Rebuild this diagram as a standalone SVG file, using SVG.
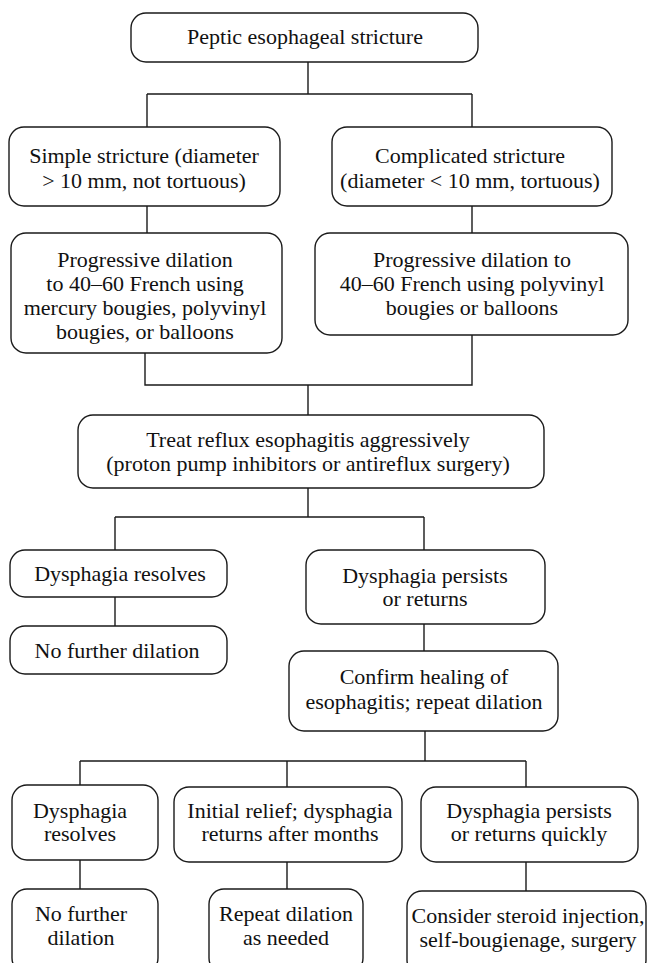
<svg xmlns="http://www.w3.org/2000/svg" width="648" height="963" viewBox="0 0 648 963">
  <style>
    .box { fill: #fff; stroke: #1a1a1a; stroke-width: 1.4; }
    .lbl { font-family: 'Liberation Serif', 'DejaVu Serif', 'Noto Serif', serif; font-size: 22px; fill: #111; text-anchor: middle; }
    .wire { fill: none; stroke: #1a1a1a; stroke-width: 1.4; }
  </style>
  <rect width="648" height="963" fill="#fff"/>

  <!-- connectors -->
  <g id="connectors" class="wire">
    <path d="M308 62 V94 M147 94 H472 M147 94 V127 M472 94 V127"/>
    <path d="M147 206 V233 M472 206 V233"/>
    <path d="M145 353 V385 H472 V335 M308 385 V415"/>
    <path d="M308 488 V517 M115 517 H424 M115 517 V550 M424 517 V550"/>
    <path d="M115 597 V626"/>
    <path d="M424 624 V651"/>
    <path d="M425 731 V761 M80 761 H526 M80 761 V785 M287 761 V787 M526 761 V787"/>
    <path d="M80 860 V889 M287 862 V889 M526 862 V891"/>
  </g>

  <g id="n-peptic">
    <rect class="box" x="131" y="13" width="347" height="49" rx="15"/>
    <text class="lbl" x="305" y="44" font-family="Liberation Serif, DejaVu Serif, serif">Peptic esophageal stricture</text>
  </g>

  <g id="n-simple">
    <rect class="box" x="9" y="127" width="271" height="79" rx="15"/>
    <text class="lbl" x="144" y="163">Simple stricture (diameter</text>
    <text class="lbl" x="144" y="188">&gt; 10 mm, not tortuous)</text>
  </g>

  <g id="n-complicated">
    <rect class="box" x="332" y="127" width="280" height="79" rx="15"/>
    <text class="lbl" x="470" y="163">Complicated stricture</text>
    <text class="lbl" x="470" y="188">(diameter &lt; 10 mm, tortuous)</text>
  </g>

  <g id="n-dilate-simple">
    <rect class="box" x="11" y="233" width="271" height="120" rx="15"/>
    <text class="lbl" x="145" y="267">Progressive dilation</text>
    <text class="lbl" x="145" y="291">to 40–60 French using</text>
    <text class="lbl" x="145" y="315">mercury bougies, polyvinyl</text>
    <text class="lbl" x="145" y="339">bougies, or balloons</text>
  </g>

  <g id="n-dilate-complicated">
    <rect class="box" x="315" y="233" width="313" height="102" rx="15"/>
    <text class="lbl" x="472" y="267">Progressive dilation to</text>
    <text class="lbl" x="472" y="291">40–60 French using polyvinyl</text>
    <text class="lbl" x="472" y="315">bougies or balloons</text>
  </g>

  <g id="n-treat">
    <rect class="box" x="78" y="415" width="466" height="73" rx="15"/>
    <text class="lbl" x="308" y="447">Treat reflux esophagitis aggressively</text>
    <text class="lbl" x="308" y="471">(proton pump inhibitors or antireflux surgery)</text>
  </g>

  <g id="n-resolves-1">
    <rect class="box" x="10" y="550" width="217" height="47" rx="15"/>
    <text class="lbl" x="120" y="581">Dysphagia resolves</text>
  </g>

  <g id="n-no-dilation-1">
    <rect class="box" x="10" y="626" width="217" height="48" rx="15"/>
    <text class="lbl" x="117" y="658">No further dilation</text>
  </g>

  <g id="n-persists">
    <rect class="box" x="306" y="550" width="239" height="74" rx="15"/>
    <text class="lbl" x="425" y="583">Dysphagia persists</text>
    <text class="lbl" x="425" y="606">or returns</text>
  </g>

  <g id="n-confirm">
    <rect class="box" x="289" y="651" width="269" height="80" rx="15"/>
    <text class="lbl" x="424" y="684">Confirm healing of</text>
    <text class="lbl" x="424" y="709">esophagitis; repeat dilation</text>
  </g>

  <g id="n-resolves-2">
    <rect class="box" x="12" y="785" width="146" height="75" rx="15"/>
    <text class="lbl" x="80" y="818">Dysphagia</text>
    <text class="lbl" x="80" y="841">resolves</text>
  </g>

  <g id="n-relief">
    <rect class="box" x="174" y="787" width="228" height="75" rx="15"/>
    <text class="lbl" x="290" y="818">Initial relief; dysphagia</text>
    <text class="lbl" x="290" y="841">returns after months</text>
  </g>

  <g id="n-persists-quick">
    <rect class="box" x="421" y="787" width="217" height="75" rx="15"/>
    <text class="lbl" x="529" y="818">Dysphagia persists</text>
    <text class="lbl" x="529" y="841">or returns quickly</text>
  </g>

  <g id="n-no-dilation-2">
    <rect class="box" x="12" y="889" width="146" height="84" rx="15"/>
    <text class="lbl" x="81" y="921">No further</text>
    <text class="lbl" x="81" y="945">dilation</text>
  </g>

  <g id="n-repeat">
    <rect class="box" x="209" y="889" width="154" height="84" rx="15"/>
    <text class="lbl" x="286" y="921">Repeat dilation</text>
    <text class="lbl" x="286" y="945">as needed</text>
  </g>

  <g id="n-consider">
    <rect class="box" x="407" y="891" width="239" height="84" rx="15"/>
    <text class="lbl" x="528" y="923">Consider steroid injection,</text>
    <text class="lbl" x="528" y="947">self-bougienage, surgery</text>
  </g>
</svg>
